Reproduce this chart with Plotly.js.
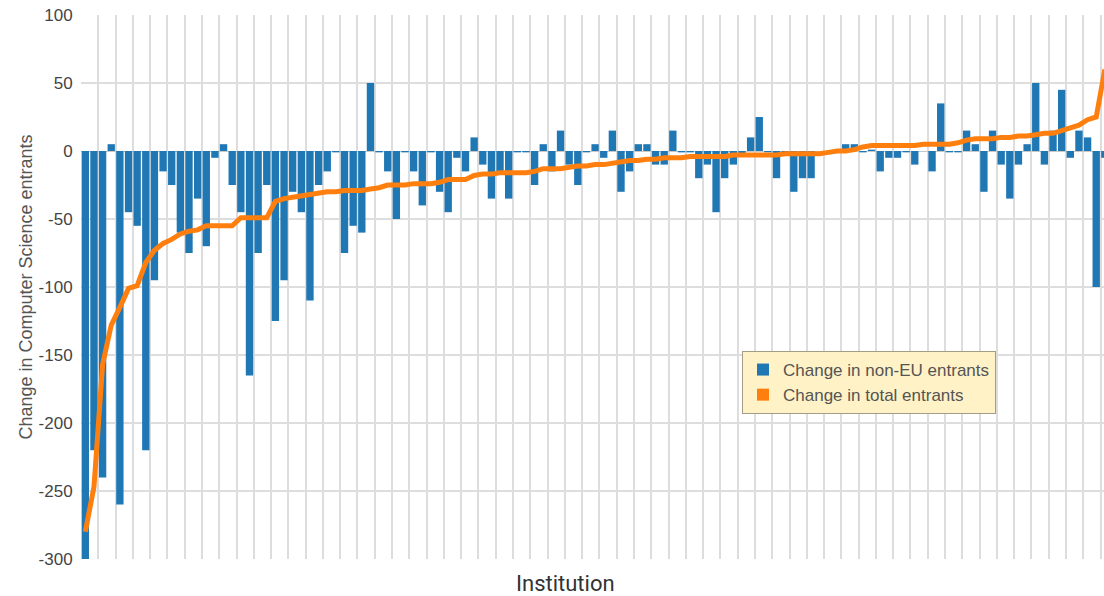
<!DOCTYPE html>
<html>
<head>
<meta charset="utf-8">
<script src="https://cdn.plot.ly/plotly-3.0.1.min.js"></script>
<style>
  html, body { margin: 0; padding: 0; background: #fff; }
  #chart { width: 1104px; height: 596px; }
</style>
</head>
<body>
<div id="chart"></div>
<script>
// Change in non-EU entrants per institution (bars)
const nonEU = [
  -310, -220, -240, 5, -260, -45, -55, -220, -95, -15,
  -25, -60, -75, -35, -70, -5, 5, -25, -45, -165,
  -75, -25, -125, -95, -30, -45, -110, -25, -15, -1,
  -75, -55, -60, 50, -1, -15, -50, -1, -15, -40,
  -1, -30, -45, -5, -15, 10, -10, -35, -15, -35,
  -1, -1, -25, 5, -15, 15, -10, -25, -1, 5,
  -5, 15, -30, -15, 5, 5, -10, -10, 15, -1,
  -1, -20, -10, -45, -20, -10, -2, 10, 25, -1,
  -20, -1, -30, -20, -20, 0, 0, 0, 5, 5,
  -1, 1, -15, -5, -5, -1, -10, 0, -15, 35,
  -1, -1, 15, 5, -30, 15, -10, -35, -10, 5,
  50, -10, 15, 45, -5, 15, 10, -100, -5
];

// Change in total entrants per institution (line)
const totalEntrants = [
  -280, -247, -157, -128, -115, -101, -99, -82, -73, -68,
  -65, -61, -59, -58, -55, -55, -55, -55, -49, -49,
  -49, -49, -37, -35, -34, -33, -32, -31, -30, -30,
  -29, -29, -29, -28, -27, -25, -25, -25, -24, -24,
  -24, -23, -21, -21, -21, -18, -17, -17, -16, -16,
  -16, -16, -15, -13, -13, -13, -12, -11, -11, -10,
  -10, -9, -8, -7, -7, -6, -6, -5, -5, -5,
  -4, -4, -4, -4, -4, -3, -3, -3, -3, -3,
  -3, -2, -2, -2, -2, -2, -1, 0, 0, 1,
  3, 4, 4, 4, 4, 4, 4, 5, 5, 5,
  5, 6, 8, 9, 9, 9, 10, 10, 11, 11,
  12, 13, 13, 15, 17, 19, 23, 25, 60
];

// Institutions (names not shown on the chart)
const institutions = nonEU.map((_, i) => 'Institution ' + (i + 1));

// Y axis ticks
const yTickVals = [100, 50, 0, -50, -100, -150, -200, -250, -300];
const yTickText = ['100', '50', '0', '-50', '-100', '-150', '-200', '-250', '-300'];

const seriesNames = ['Change in non-EU entrants', 'Change in total entrants'];
const colors = ['#1f77b4', '#ff7f0e'];

const traces = [
  {
    type: 'bar',
    x: institutions,
    y: nonEU,
    name: seriesNames[0],
    marker: { color: colors[0], line: { width: 0 } },
    hoverinfo: 'x+y'
  },
  {
    type: 'scatter',
    mode: 'lines',
    x: institutions,
    y: totalEntrants,
    name: seriesNames[1],
    line: { color: colors[1], width: 5 },
    showlegend: false,
    hoverinfo: 'x+y'
  },
  {
    // legend swatch for the line series (square, as in the original)
    type: 'bar',
    x: [institutions[0]],
    y: [null],
    name: seriesNames[1],
    marker: { color: colors[1] },
    hoverinfo: 'skip'
  }
];

const layout = {
  width: 1104,
  height: 596,
  margin: { l: 81, r: 0, t: 15, b: 37, pad: 0 },
  paper_bgcolor: '#ffffff',
  plot_bgcolor: '#ffffff',
  barmode: 'overlay',
  bargap: 0.15,
  font: { family: 'Liberation Sans, Arial, sans-serif', color: '#555' },
  xaxis: {
    type: 'category',
    range: [-0.5, 117.9],
    showticklabels: false,
    ticks: '',
    tickson: 'boundaries',
    showgrid: true,
    gridcolor: '#dddddd',
    gridwidth: 2,
    zeroline: false,
    showline: false,
    fixedrange: true
  },
  yaxis: {
    range: [-300, 100],
    tickvals: yTickVals,
    ticktext: yTickText,
    tickfont: { size: 17, color: '#444' },
    ticks: 'outside',
    ticklen: 4,
    tickcolor: 'rgba(0,0,0,0)',
    showgrid: true,
    gridcolor: '#dddddd',
    gridwidth: 2,
    zeroline: true,
    zerolinecolor: '#c8c8c8',
    zerolinewidth: 1,
    showline: false,
    automargin: false,
    fixedrange: true,
    title: {
      text: 'Change in Computer Science entrants',
      font: { size: 18, color: '#555' },
      standoff: 1
    }
  },
  legend: {
    x: (742 - 81) / 1023,
    y: (559 - 351) / 544,
    xanchor: 'left',
    yanchor: 'top',
    bgcolor: '#fff2c6',
    bordercolor: '#a39d86',
    borderwidth: 1,
    font: { size: 17, color: '#555' },
    traceorder: 'normal',
    tracegroupgap: 0
  },
  annotations: [
    {
      text: 'Institution',
      xref: 'paper', yref: 'paper',
      x: (565 - 81) / 1023,
      y: -(583 - 559) / 544,
      xanchor: 'center', yanchor: 'middle',
      showarrow: false,
      borderpad: 0,
      font: { family: 'Roboto, Liberation Sans, sans-serif', size: 22, color: '#333' }
    }
  ],
  showlegend: true
};

Plotly.newPlot('chart', traces, layout, { displayModeBar: false, staticPlot: true });
</script>
</body>
</html>
